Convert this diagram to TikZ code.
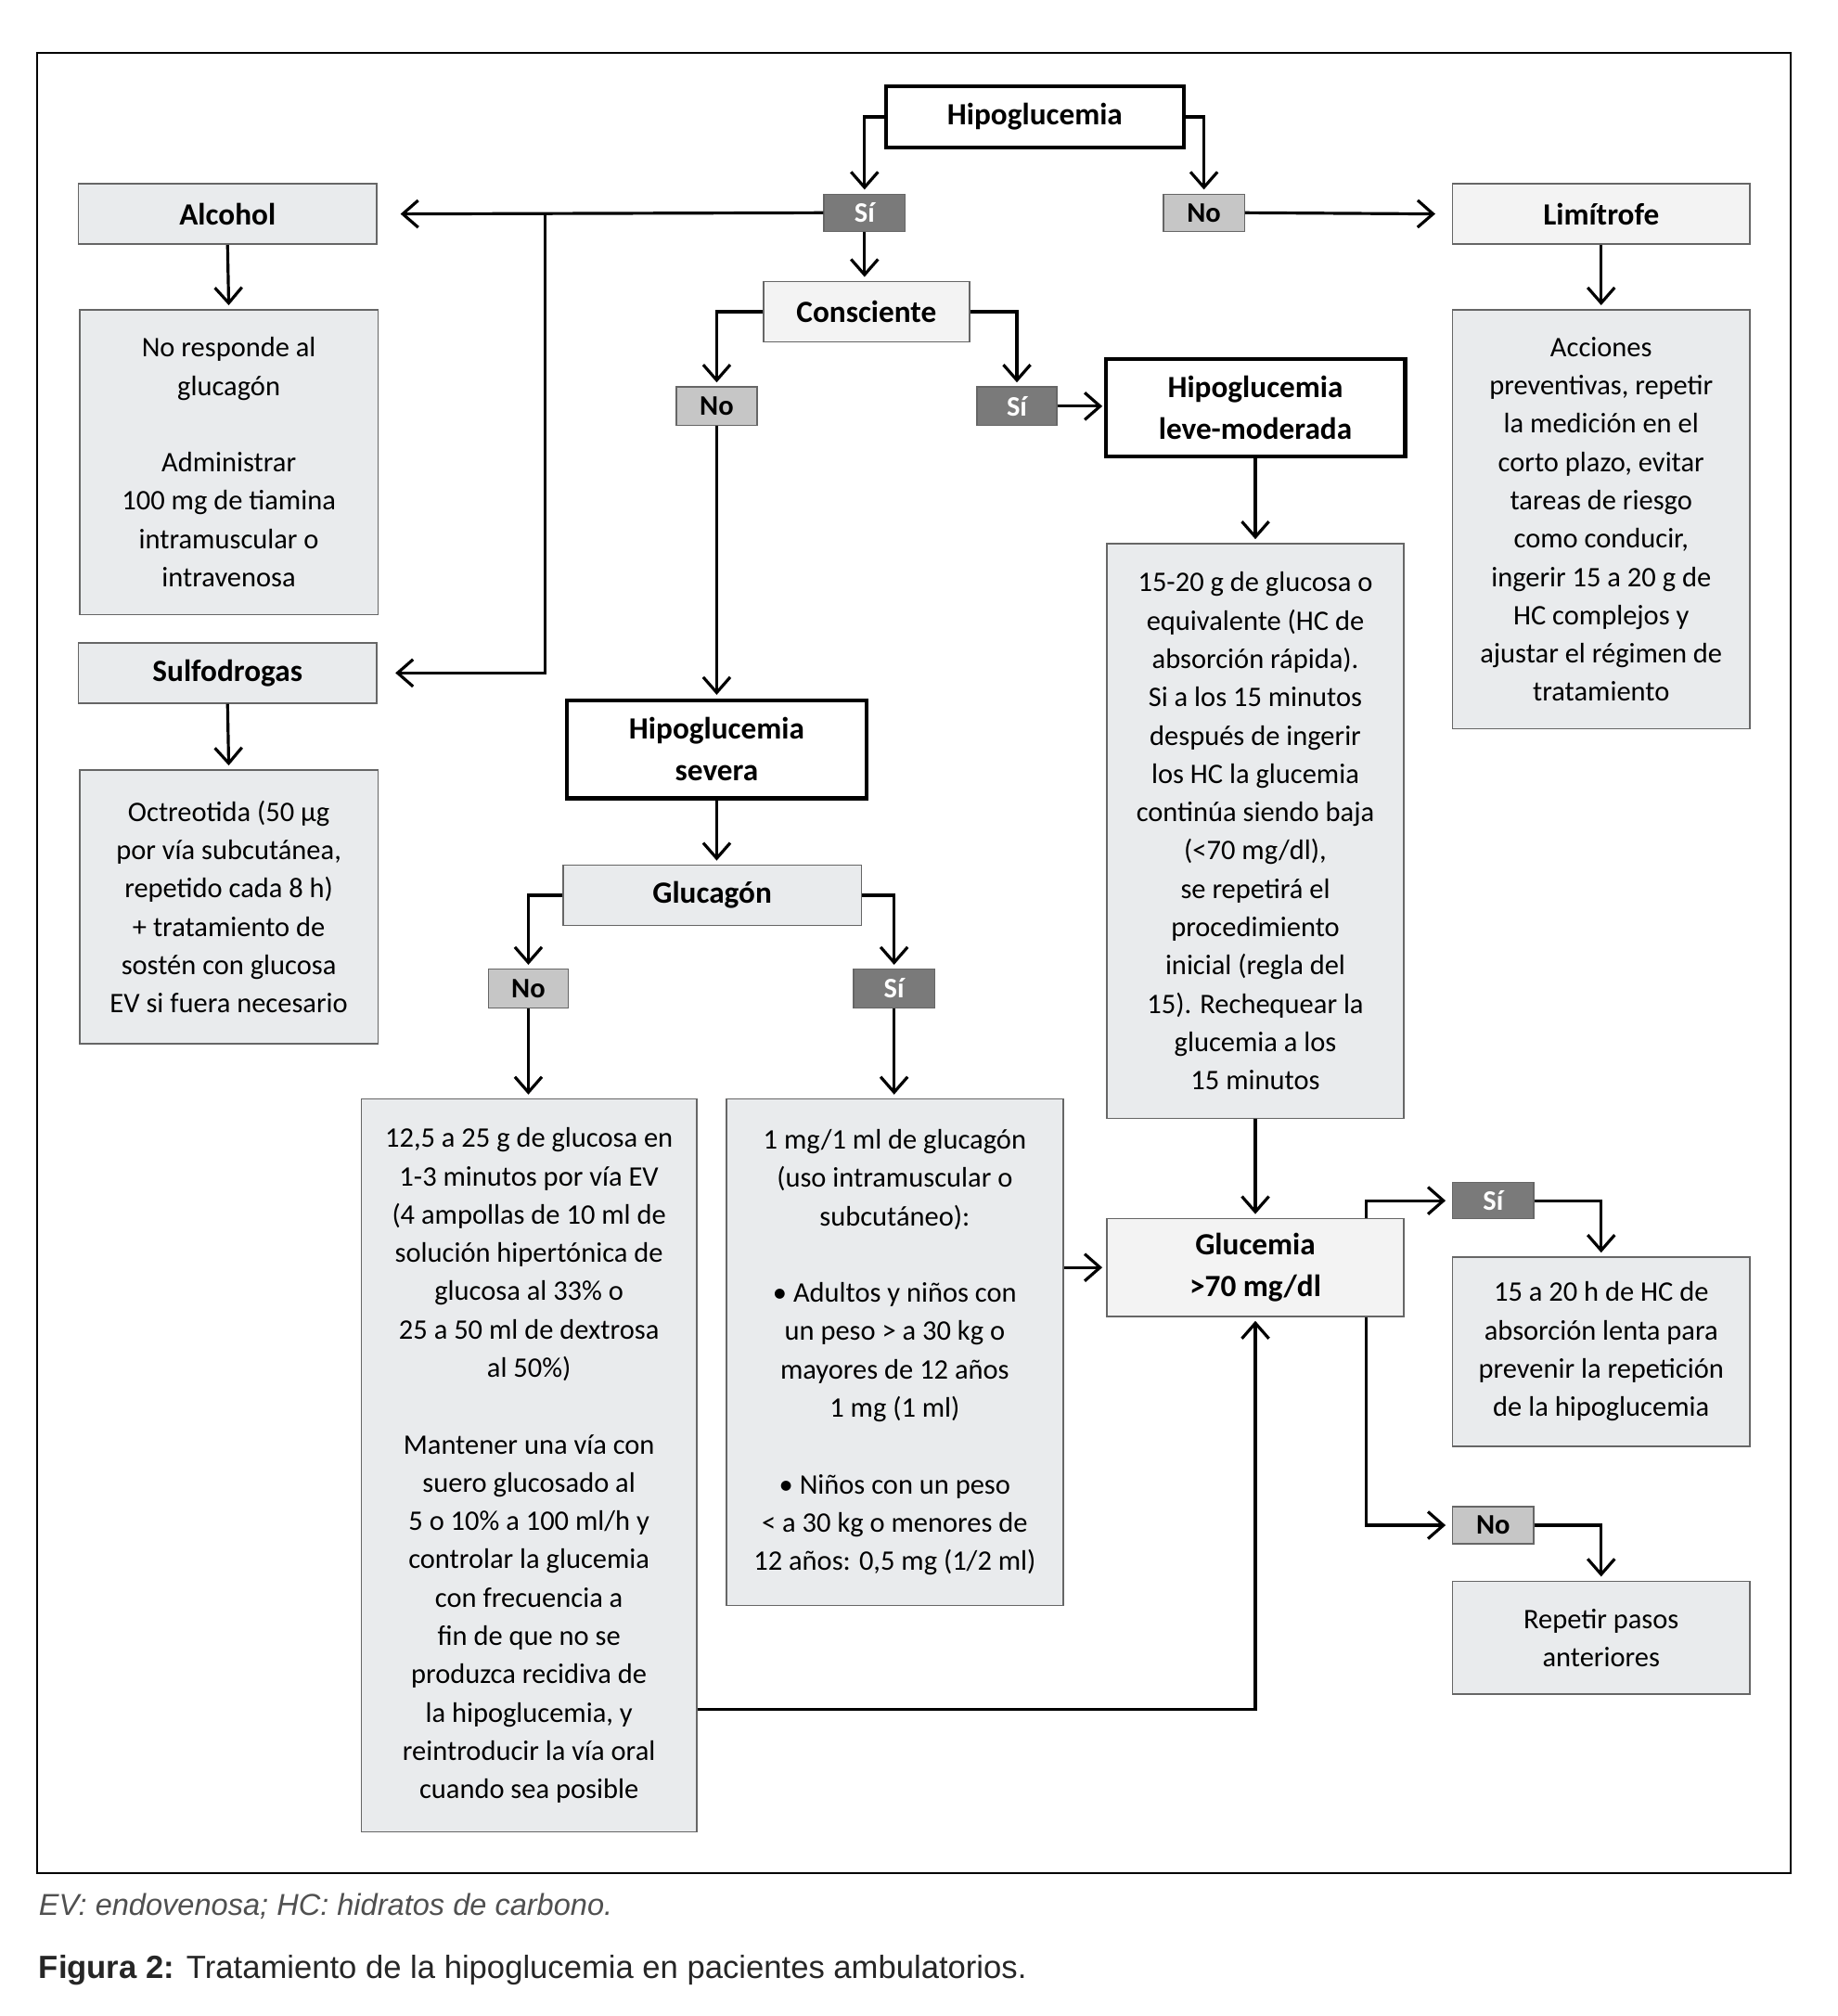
\documentclass[tikz,border=0pt]{standalone}
\usepackage{fontspec}
\setmainfont{Carlito}
\newfontfamily\capfont{Liberation Sans}
\usetikzlibrary{arrows.meta}
\definecolor{boxfill}{HTML}{E9EBED}
\definecolor{litefill}{HTML}{F3F3F3}
\definecolor{darkfill}{HTML}{7A7A7A}
\definecolor{lightfill}{HTML}{C6C6C6}
\definecolor{bordergray}{HTML}{666666}
\definecolor{notegray}{HTML}{505050}
\begin{document}
\begin{tikzpicture}[x=1pt,y=-1pt,
 txt/.style={font=\fontsize{22}{29.8}\selectfont, align=center, inner sep=0pt},
 lbox/.style={txt, draw=bordergray, line width=1.1pt, fill=boxfill},
 hbox/.style={lbox, font=\fontsize{24}{32}\selectfont\bfseries},
 tbox/.style={txt, draw=black, line width=3pt, fill=white, font=\fontsize{24}{32.5}\selectfont\bfseries},
 sibox/.style={draw=bordergray, line width=1pt, fill=darkfill, text=white, font=\fontsize{22}{24}\selectfont\bfseries, inner sep=0pt, minimum width=63pt, minimum height=29pt},
 nobox/.style={sibox, fill=lightfill, text=black},
 arr/.style={line width=2.3pt, -{Straight Barb[length=12pt,width=21pt,line width=2.3pt]}, shorten >=3pt}
]
\useasboundingbox (0,0) rectangle (1429.7,1568.3);
\draw[line width=1.5pt] (29,41) rectangle (1393,1457);

% nodes
\node[tbox, minimum width=232pt, minimum height=48pt] (hipo) at (805,91) {Hipoglucemia};
\node[sibox] (si1) at (672.5,165.5) {Sí};
\node[nobox] (no1) at (936.5,165.5) {No};
\node[hbox, minimum width=232pt, minimum height=47pt] (alc) at (177,166.5) {Alcohol};
\node[lbox, minimum width=232pt, minimum height=237pt] (alctxt) at (178,359.5) {No responde al\\glucagón\\[29.8pt]Administrar\\100 mg de tiamina\\intramuscular o\\intravenosa};
\node[hbox, minimum width=232pt, minimum height=47pt] (sulf) at (177,523.5) {Sulfodrogas};
\node[lbox, minimum width=232pt, minimum height=213pt] (sulftxt) at (178,705.5) {Octreotida (50 µg\\por vía subcutánea,\\repetido cada 8 h)\\+ tratamiento de\\sostén con glucosa\\EV si fuera necesario};
\node[hbox, fill=litefill, minimum width=231pt, minimum height=47pt] (lim) at (1245.5,166.5) {Limítrofe};
\node[lbox, minimum width=231pt, minimum height=326pt] (limtxt) at (1245.5,404) {Acciones\\preventivas, repetir\\la medición en el\\corto plazo, evitar\\tareas de riesgo\\como conducir,\\ingerir 15 a 20 g de\\HC complejos y\\ajustar el régimen de\\tratamiento};
\node[hbox, fill=litefill, minimum width=160pt, minimum height=47pt] (cons) at (674,242.5) {Consciente};
\node[nobox, minimum height=30pt] (no2) at (557.5,316) {No};
\node[sibox, minimum width=62pt, minimum height=30pt] (si2) at (791,316) {Sí};
\node[tbox, minimum width=233pt, minimum height=76pt] (leve) at (976.5,317) {Hipoglucemia\\leve-moderada};
\node[lbox, minimum width=231pt, minimum height=447pt] (levetxt) at (976.5,646.5) {15-20 g de glucosa o\\equivalente (HC de\\absorción rápida).\\Si a los 15 minutos\\después de ingerir\\los HC la glucemia\\continúa siendo baja\\(<70 mg/dl),\\se repetirá el\\procedimiento\\inicial (regla del\\15). Rechequear la\\glucemia a los\\15 minutos};
\node[tbox, minimum width=233pt, minimum height=76pt] (sev) at (557.5,583) {Hipoglucemia\\severa};
\node[hbox, minimum width=232pt, minimum height=47pt] (gluc) at (554,696.5) {Glucagón};
\node[nobox, minimum width=62pt, minimum height=30pt] (no3) at (411,769) {No};
\node[sibox, minimum height=30pt] (si3) at (695.5,769) {Sí};
\node[lbox, minimum width=261pt, minimum height=570pt] (dex) at (411.5,1140) {12,5 a 25 g de glucosa en\\1-3 minutos por vía EV\\(4 ampollas de 10 ml de\\solución hipertónica de\\glucosa al 33\% o\\25 a 50 ml de dextrosa\\al 50\%)\\[29.8pt]Mantener una vía con\\suero glucosado al\\5 o 10\% a 100 ml/h y\\controlar la glucemia\\con frecuencia a\\fin de que no se\\produzca recidiva de\\la hipoglucemia, y\\reintroducir la vía oral\\cuando sea posible};
\node[lbox, minimum width=262pt, minimum height=394pt] (glg) at (696,1052) {1 mg/1 ml de glucagón\\(uso intramuscular o\\subcutáneo):\\[29.8pt]\textbullet{} Adultos y niños con\\un peso > a 30 kg o\\mayores de 12 años\\1 mg (1 ml)\\[29.8pt]\textbullet{} Niños con un peso\\< a 30 kg o menores de\\12 años: 0,5 mg (1/2 ml)};
\node[hbox, fill=litefill, minimum width=231pt, minimum height=76pt] (g70) at (976.5,986) {Glucemia\\>70 mg/dl};
\node[sibox, minimum height=28pt] (si4) at (1161.5,934) {Sí};
\node[lbox, minimum width=231pt, minimum height=147pt] (slow) at (1245.5,1051.5) {15 a 20 h de HC de\\absorción lenta para\\prevenir la repetición\\de la hipoglucemia};
\node[nobox] (no4) at (1161.5,1186.5) {No};
\node[lbox, minimum width=231pt, minimum height=88pt] (rep) at (1245.5,1274) {Repetir pasos\\anteriores};

% connectors
\draw[arr] (hipo.west) -| (si1.north);
\draw[arr] (hipo.east) -| (no1.north);
\draw[arr, shorten >=18pt] (si1.west) -- (alc.east);
\coordinate (br) at (424,165.5);
\draw[arr, shorten >=14pt] (br) |- (sulf.east);
\draw[arr, shorten >=13pt] (no1.east) -- (lim.west);
\draw[arr] (alc.south) -- (alctxt.north);
\draw[arr] (sulf.south) -- (sulftxt.north);
\draw[arr] (lim.south) -- (limtxt.north);
\draw[arr] (si1.south) -- (si1.south |- cons.north);
\draw[arr] (cons.west) -| (no2.north);
\draw[arr] (cons.east) -| (si2.north);
\draw[arr, shorten >=1pt] (si2.east) -- (si2.east -| leve.west);
\draw[arr] (leve.south) -- (levetxt.north);
\draw[arr] (no2.south) -- (sev.north);
\draw[arr] (sev.south) -- (sev.south |- gluc.north);
\draw[arr] (gluc.west) -| (no3.north);
\draw[arr] (gluc.east) -| (si3.north);
\draw[arr] (no3.south) -- (no3.south |- dex.north);
\draw[arr] (si3.south) -- (si3.south |- glg.north);
\draw[arr] (levetxt.south) -- (g70.north);
\draw[arr] (glg.east |- g70.west) -- (g70.west);
\draw[arr] (dex.east |- 0,1330) -| (g70.south);
\draw[arr, shorten >=5pt] (g70.north -| 1063,0) |- (si4.west);
\draw[arr] (si4.east) -| (slow.north);
\draw[arr, shorten >=5pt] (g70.south -| 1063,0) |- (no4.west);
\draw[arr] (no4.east) -| (rep.north);

% notes
\node[anchor=base west, inner sep=0pt, text=notegray, font=\capfont\itshape\fontsize{23.5}{28}\selectfont] (note) at (30,1490) {EV: endovenosa; HC: hidratos de carbono.};
\node[anchor=base west, inner sep=0pt, text=black!85, font=\capfont\fontsize{25}{30}\selectfont] (cap) at (30,1539) {\textbf{Figura 2:} Tratamiento de la hipoglucemia en pacientes ambulatorios.};
\end{tikzpicture}
\end{document}
